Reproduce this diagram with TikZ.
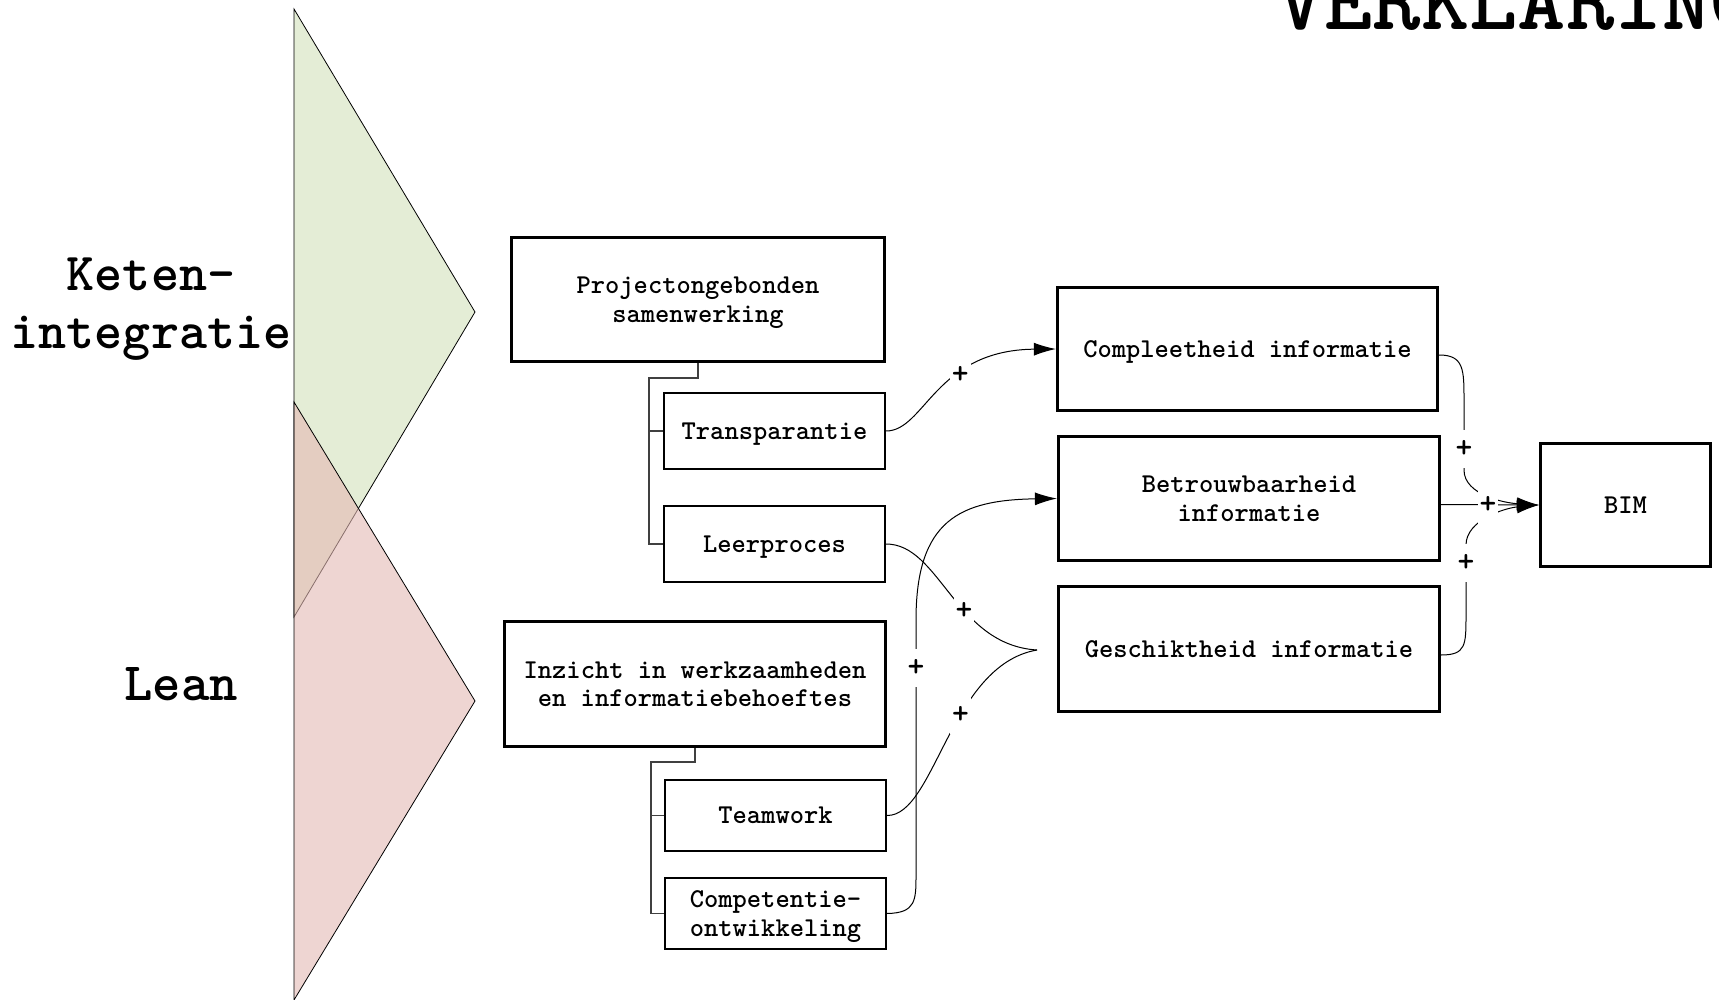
\documentclass[tikz,border=0pt]{standalone}
\usetikzlibrary{arrows.meta}
\definecolor{kgreen}{RGB}{228,237,214}
\definecolor{lred}{RGB}{228,185,180}
\begin{document}
\begin{tikzpicture}[x=1pt,y=-1pt,
  every node/.style={font=\ttfamily\bfseries\fontsize{27.2}{28.5}\selectfont, align=center},
  thickbox/.style={draw, line width=3.2pt, fill=white, inner sep=0pt, text depth=0pt},
  thinbox/.style={draw, line width=1.6pt, fill=white, inner sep=0pt, text depth=0pt},
  conn/.style={line width=1pt},
  tree/.style={line width=1.2pt, draw=black!75},
  plus/.style={fill=white, inner xsep=2pt, inner ysep=0pt, minimum height=38pt, font=\ttfamily\bfseries\fontsize{32}{32}\selectfont},
  arr/.style={-{Latex[length=22pt,width=13pt]}},
]
\useasboundingbox (0,0) rectangle (1719,1000);
\fill[white] (0,0) rectangle (1719,1000);

% triangles
\filldraw[fill=kgreen, line width=0.8pt] (294,9) -- (475,312) -- (294,617) -- cycle;
\filldraw[fill=lred, fill opacity=0.6, line width=0.8pt] (294,402) -- (475,701) -- (294,1000) -- cycle;

% side labels and title
\node[font=\ttfamily\bfseries\fontsize{53.4}{58}\selectfont] (keten) at (151,309) {Keten-\\integratie};
\node[font=\ttfamily\bfseries\fontsize{54}{58}\selectfont, anchor=base] (lean) at (181,700) {Lean};
\node[font=\ttfamily\bfseries\fontsize{92}{92}\selectfont, anchor=base west, inner sep=0pt] (title) at (1276,30) {VERKLARING};

% boxes
\node[thickbox, minimum width=373pt, minimum height=124pt] (proj) at (698,299.5) {Projectongebonden\\samenwerking};
\node[thinbox, minimum width=221.5pt, minimum height=76.5pt] (trans) at (774.5,431) {Transparantie};
\node[thinbox, minimum width=221.5pt, minimum height=76.5pt] (leer) at (774.5,544) {Leerproces};
\node[thickbox, minimum width=381pt, minimum height=125pt] (inz) at (695,684) {Inzicht in werkzaamheden\\en informatiebehoeftes};
\node[thinbox, minimum width=221.5pt, minimum height=71.5pt] (team) at (775.5,815.5) {Teamwork};
\node[thinbox, minimum width=221.5pt, minimum height=71.5pt] (comp) at (775.5,913.5) {Competentie-\\ontwikkeling};
\node[thickbox, minimum width=380pt, minimum height=123pt] (compl) at (1247.5,349) {Compleetheid informatie};
\node[thickbox, minimum width=381pt, minimum height=124pt] (betr) at (1249,498.5) {Betrouwbaarheid\\informatie};
\node[thickbox, minimum width=381pt, minimum height=125pt] (gesch) at (1249,649) {Geschiktheid informatie};
\node[thickbox, minimum width=170pt, minimum height=123pt] (bim) at (1625.5,505) {BIM};

% tree connectors
\coordinate (j1) at (649,378);
\draw[tree] (proj.south) |- (j1) |- (leer.west);
\draw[tree] (j1) |- (trans.west);
\coordinate (j2) at (651,762);
\draw[tree] (inz.south) |- (j2) |- (comp.west);
\draw[tree] (j2) |- (team.west);

% influence curves
\coordinate (cusp) at (1037,650);
\draw[conn, arr] (trans.east) .. controls (925,431) and (935,350) .. node[plus, pos=0.63] {+} (compl.west);
\draw[conn] (leer.east) .. controls (940,544) and (955,645) .. node[plus, pos=0.6] {+} (cusp);
\draw[conn] (team.east) .. controls (935,816) and (950,665) .. node[plus, pos=0.6] {+} (cusp);
\draw[conn, arr] (comp.east) .. controls (916,913) and (916,900) .. (916,875) -- node[plus, pos=0.81] {+} (916,620) .. controls (916,520) and (960,500) .. (betr.west);

% to BIM
\draw[conn, arr] ([yshift=-6pt]compl.east) .. controls (1464,355) and (1464,370) .. (1464,400) -- node[plus, pos=0.7] {+} (1464,470) .. controls (1464,495) and (1505,503) .. (bim.west);
\draw[conn, arr] ([yshift=-6pt]gesch.east) .. controls (1466,655) and (1466,645) .. (1466,615) -- node[plus, pos=0.74] {+} (1466,545) .. controls (1466,520) and (1505,508) .. (bim.west);
\draw[conn, arr] ([yshift=-6pt]betr.east) -- node[plus, pos=0.48] {+} (bim.west);
\end{tikzpicture}
\end{document}
